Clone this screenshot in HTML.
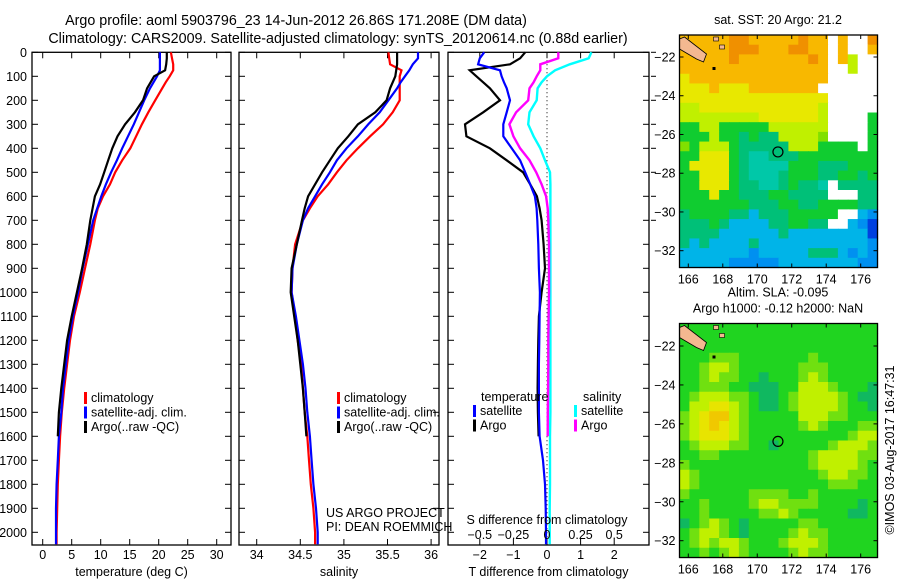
<!DOCTYPE html>
<html><head><meta charset="utf-8">
<style>
html,body{margin:0;padding:0;background:#fff;}
svg{display:block;font-family:"Liberation Sans",sans-serif;}
text{font-size:12.5px;fill:#000;}
</style></head>
<body>
<svg id="fig" width="900" height="580" viewBox="0 0 900 580" xmlns="http://www.w3.org/2000/svg">
<text x="296" y="25" text-anchor="middle" style="font-size:14.3px">Argo profile: aoml 5903796_23 14-Jun-2012 26.86S 171.208E (DM data)</text>
<text x="338" y="43" text-anchor="middle" style="font-size:14.3px">Climatology: CARS2009. Satellite-adjusted climatology: synTS_20120614.nc (0.88d earlier)</text>
<g id="p1"></g>
<g id="p2"></g>
<g id="p3"></g>
<g id="m1"></g>
<g id="m2"></g>
</svg>
<script>
const depths=[0,25,50,75,100,125,150,200,250,300,350,400,450,500,550,600,650,700,800,900,1000,1100,1200,1300,1400,1500,1600,1700,1800,1900,2000,2050];
const tempClim=[22.1,22.3,22.5,22.5,21.9,21.2,20.6,19.4,18.2,17.1,16.1,15.1,13.7,12.5,11.6,10.4,9.5,9.0,8.2,7.3,6.4,5.4,4.7,4.2,3.7,3.3,3.0,2.8,2.6,2.5,2.4,2.4];
const tempSat=[20.2,20.2,20.2,20.2,19.7,19.1,18.5,17.5,16.6,15.7,14.7,13.7,12.8,11.8,10.9,10.1,9.4,8.7,7.8,6.9,6.1,5.2,4.5,4.0,3.5,3.2,2.8,2.6,2.4,2.3,2.3,2.3];
const tempArgo=[21.4,21.4,21.3,21.1,19.2,18.6,18.0,17.3,15.9,14.2,12.9,12.0,11.3,10.6,9.9,9.0,8.6,8.2,7.6,6.8,5.9,5.0,4.2,3.7,3.2,2.8,2.6];
const salClim=[35.51,35.52,35.53,35.66,35.64,35.64,35.64,35.64,35.56,35.45,35.30,35.16,35.03,34.92,34.82,34.70,34.61,34.53,34.44,34.41,34.40,34.44,34.47,34.51,34.53,34.55,34.58,34.60,34.62,34.65,34.67,34.67];
const salSat=[35.85,35.85,35.79,35.75,35.70,35.65,35.61,35.51,35.41,35.28,35.16,35.03,34.92,34.84,34.75,34.67,34.59,34.53,34.46,34.41,34.40,34.45,34.49,34.53,34.56,34.58,34.61,34.63,34.65,34.68,34.70,34.70];
const salArgo=[35.61,35.61,35.61,35.60,35.59,35.56,35.53,35.49,35.36,35.16,35.05,34.93,34.84,34.75,34.67,34.59,34.55,34.52,34.46,34.40,34.39,34.43,34.47,34.50,34.53,34.55,34.57];
const dTSat=[-1.87,-2.0,-2.05,-1.4,-1.35,-1.28,-1.2,-1.1,-1.2,-1.3,-1.3,-1.05,-0.8,-0.65,-0.5,-0.36,-0.31,-0.29,-0.26,-0.24,-0.21,-0.22,-0.23,-0.24,-0.24,-0.24,-0.22,-0.12,-0.06,-0.04,-0.03,-0.03];
const dTArgo=[-0.65,-0.8,-1.1,-2.3,-2.1,-1.9,-1.7,-1.4,-1.9,-2.44,-2.4,-1.7,-1.2,-0.71,-0.5,-0.3,-0.22,-0.16,-0.1,-0.06,-0.16,-0.24,-0.26,-0.27,-0.28,-0.27,-0.25];
const dSArgo=[0.084,0.084,-0.05,-0.05,-0.077,-0.1,-0.13,-0.14,-0.23,-0.28,-0.25,-0.2,-0.13,-0.08,-0.04,-0.007,0.005,0.01,0.015,0.015,0.015,0.012,0.01,0.01,0.008,0.006,0.005];
const dSSat=[0.33,0.31,0.17,0.06,0,-0.04,-0.07,-0.077,-0.13,-0.14,-0.1,-0.05,-0.015,0.022,0.025,0.025,0.025,0.025,0.025,0.025,0.025,0.025,0.025,0.025,0.025,0.025,0.022,0.022,0.022,0.02,0.02,0.02];
const depthTicks=[0,100,200,300,400,500,600,700,800,900,1000,1100,1200,1300,1400,1500,1600,1700,1800,1900,2000];
const tempTicks=[0,5,10,15,20,25,30];
const salTicks=[34,34.5,35,35.5,36];
const dTTicks=[-2,-1,0,1,2];
const dSTicks=[-0.5,-0.25,0,0.25,0.5];
const lonTicks=[166,168,170,172,174,176];
const latTicks=[22,24,26,28,30,32];
const sstGrid=[
"oooooOOoooooOoowowwO","oooooOOOoooOOoowowwo","oooooOoooooooOowoYww","ooooooooooooooowwYww",
"yoooooooooooooowwwww","yyyoyyyooooooowwwwww","yyyyyyyyyyyyyyywwwww","YYyyyyyyyyyyyyYwwwww",
"YYYYYYYYyyyyyyYwwwwG","GGYYGGGGGYYYYYYwwwwG","GGGYGGtGttYYYYgwwwwG","gGYYYGtttttYYYGGGGwG",
"GGyyyGtcctttGGGGGGGG","GyyyyGtccccGGGtttGGG","GGyyyGtccctGGGttGGtG","GGyyyGttcctGttcwtttt",
"GGGyGGtttGGttttwwwtt","GGGGGGGtttGGttGGGGtt","tGGGGttbtttGGGGGwwbB","tttGtbbbbttGGttwwbBD",
"ttttbbbbbbtbbbbbbbbD","tbtbbbbtbbbbbbbbbbbB","bbbbbbbBbbbbbtttbBbB","bbbbbBBBBBbbbbbbbbBB"];
const slaGrid=[
"GGGGGGGGGGGGGGGGGGGG","GGGGGGGGGGGGGGGGGGGG","GGGGGGGGGGGGGGGGGGGG","GGGgggGGGGGGGgGGGGGG",
"GGgYYgGGGGGGgggGGGGG","GGgYggGGtGGGgYgGGGGG","GGgggGGtttGGYYYgGGGt","GgYYYggGttGgYYYYgGtt",
"GYYyyYgGttGgYYYYgGGt","gYyooYgGGGGGYYYggGGG","gYyoyYgGGGGGgYgGGGgg","gYyyyYgGGGGGGGGGGgYY",
"GgYYYggGGtGGGGGgYYYg","GGggGGGGGGGGGgYYYYgg","gGGGGGGGGGGGGgYYYYgG","YgGGGGGGGGGGGGgYYggG",
"YgGGGGGGGGGGGGGgggGG","gGGGGGGggggGGgGGGGGG","GGgGGGGgYYggggGGGGtG","GGgGGGGGggYgGGGGGttG",
"tGgYgGtGGGGGggGGGGGG","GgYYgGtGGGGgYggGGGGG","GgYgYYgGGGgYYYgGGGGG","GGgGgYgGGGGgYggGGGGG"];
const floatLon=171.2, floatLat=26.9;

const NS="http://www.w3.org/2000/svg";
function mk(parent,tag,attrs,txt){const e=document.createElementNS(NS,tag);for(const k in attrs)e.setAttribute(k,attrs[k]);if(txt!==undefined)e.textContent=txt;parent.appendChild(e);return e;}
const TOP=52.3, PXM=0.24, BOT=545;
const yD=d=>TOP+d*PXM;

function panel(g,L,R,xf,ticks,tickLbl,bottomLbl,showDepth){
  const fr=mk(g,'rect',{x:L,y:TOP,width:R-L,height:BOT-TOP,fill:'none',stroke:'#000','stroke-width':1.3});
  
  depthTicks.forEach(d=>{
    mk(g,'line',{x1:L,x2:L+6,y1:yD(d),y2:yD(d),stroke:'#000'});
    mk(g,'line',{x1:R-6,x2:R,y1:yD(d),y2:yD(d),stroke:'#000'});
    if(showDepth){const t=mk(g,'text',{x:L-5,y:yD(d)+4.5,'text-anchor':'end'},String(d));
      }
  });
  ticks.forEach(v=>{
    mk(g,'line',{x1:xf(v),x2:xf(v),y1:TOP,y2:TOP+6,stroke:'#000'});
    mk(g,'line',{x1:xf(v),x2:xf(v),y1:BOT-6,y2:BOT,stroke:'#000'});
    if(tickLbl){const t=mk(g,'text',{x:xf(v),y:559,'text-anchor':'middle'},String(v).replace('-','\u2212'));
      }
  });
  const t=mk(g,'text',{x:(L+R)/2,y:576,'text-anchor':'middle'},bottomLbl);
  
}
function series(g,vals,xf,color,name,w){
  const pts=vals.map((v,i)=>xf(v).toFixed(1)+','+yD(depths[i]).toFixed(1)).join(' ');
  const p=mk(g,'polyline',{points:pts,fill:'none',stroke:color,'stroke-width':w||2.2,'stroke-linejoin':'miter'});
  
}
function legend(g,x,y,items){
  items.forEach((it,i)=>{
    const r=mk(g,'rect',{x:x,y:y+i*14.5-10,width:3,height:12,fill:it[0]});
    
    const t=mk(g,'text',{x:x+7,y:y+i*14.5},it[1]);
    
  });
}
const p1=document.getElementById('p1');
const xT=v=>42.7+v*5.8;
panel(p1,32,231,xT,tempTicks,true,'temperature (deg C)',true);
series(p1,tempClim,xT,'#ff0000','temp-climatology-line');
series(p1,tempSat,xT,'#0000ff','temp-satellite-line');
series(p1,tempArgo,xT,'#000000','temp-argo-line');
legend(p1,84,402,[['#f00','climatology'],['#00f','satellite-adj. clim.'],['#000','Argo(..raw -QC)']]);
const p2=document.getElementById('p2');
const xS=v=>256.7+(v-34)*87.2;
panel(p2,239,439,xS,salTicks,true,'salinity',false);
series(p2,salClim,xS,'#ff0000','sal-climatology-line');
series(p2,salSat,xS,'#0000ff','sal-satellite-line');
series(p2,salArgo,xS,'#000000','sal-argo-line');
legend(p2,337,402,[['#f00','climatology'],['#00f','satellite-adj. clim.'],['#000','Argo(..raw -QC)']]);
let t=mk(p2,'text',{x:326,y:517},'US ARGO PROJECT');
t=mk(p2,'text',{x:326,y:531},'PI: DEAN ROEMMICH');
const p3=document.getElementById('p3');
const xdT=v=>547+v*33.6, xdS=v=>547+v*134.4;
panel(p3,448,649,xdT,dTTicks,true,'T difference from climatology',false);
const zl=mk(p3,'line',{x1:547,x2:547,y1:TOP,y2:BOT,stroke:'#000','stroke-dasharray':'1,3'});

series(p3,dSSat,xdS,'#00ffff','sdiff-satellite-line',2.4);
series(p3,dSArgo,xdS,'#ff00ff','sdiff-argo-line',2.4);
series(p3,dTArgo,xdT,'#000000','tdiff-argo-line',2.2);
series(p3,dTSat,xdT,'#0000ff','tdiff-satellite-line',2.2);
t=mk(p3,'text',{x:481,y:401},'temperature');
t=mk(p3,'text',{x:583,y:401},'salinity');
legend(p3,473,415,[['#00f','satellite'],['#000','Argo']]);
legend(p3,574,415,[['#0ff','satellite'],['#f0f','Argo']]);
t=mk(p3,'text',{x:547,y:524,'text-anchor':'middle'},'S difference from climatology');
dSTicks.forEach(v=>{const tt=mk(p3,'text',{x:xdS(v),y:539,'text-anchor':'middle'},String(v).replace('-','\u2212'));
  });
for(let d=0;d<=700;d+=100){mk(p3,'line',{x1:651,x2:656,y1:yD(d),y2:yD(d),stroke:'#000'});}

const sstColors={O:'#f09000',o:'#f8b800',y:'#e8e800',Y:'#c0f000',g:'#80e000',G:'#10cc30',t:'#00c078',c:'#00c8a8',b:'#00b4e8',B:'#0090f0',D:'#0040e0',w:'#ffffff'};
const slaColors={G:'#20d420',g:'#70e010',Y:'#c0f000',y:'#e8e400',o:'#f0c800',t:'#10b860'};
function map(g,T,B,grid,colors,title1,title2,lat22y,latScale){
  const L=679.5,R=877.5;
  const cols=grid[0].length, rows=grid.length, cw=(R-L)/cols, ch=(B-T)/rows;
  grid.forEach((row,r)=>{for(let c=0;c<cols;c++){
    const e=mk(g,'rect',{x:(L+c*cw).toFixed(2),y:(T+r*ch).toFixed(2),width:(cw+0.6).toFixed(2),height:(ch+0.6).toFixed(2),fill:colors[row[c]]});
    
  }});
  const lx=v=>688.3+(v-166)*17.24, ly=v=>lat22y+(v-22)*latScale;
  const land=mk(g,'polygon',{points:`${L},${T+4} ${L+5},${T+2} ${L+27},${T+19} ${L+24},${T+27} ${L+17},${T+24} ${L},${T+14}`,fill:'#f4b890',stroke:'#000','stroke-width':0.8});
  
  mk(g,'rect',{x:L+34,y:T+2,width:5,height:4,fill:'#f4b890',stroke:'#000','stroke-width':0.6});
  mk(g,'rect',{x:L+40,y:T+10,width:5,height:4,fill:'#f4b890',stroke:'#000','stroke-width':0.6});
  mk(g,'rect',{x:L+33,y:T+32,width:3,height:3,fill:'#000'});
  const fr=mk(g,'rect',{x:L,y:T,width:R-L,height:B-T,fill:'none',stroke:'#000','stroke-width':1.3});
  
  const c=mk(g,'circle',{cx:lx(floatLon),cy:ly(floatLat),r:5,fill:'none',stroke:'#000','stroke-width':1.2});
  
  lonTicks.forEach(v=>{mk(g,'line',{x1:lx(v),x2:lx(v),y1:T,y2:T+4,stroke:'#000'});mk(g,'line',{x1:lx(v),x2:lx(v),y1:B-4,y2:B,stroke:'#000'});
    const tt=mk(g,'text',{x:lx(v),y:B+16,'text-anchor':'middle'},String(v));});
  latTicks.forEach(v=>{mk(g,'line',{x1:L,x2:L+4,y1:ly(v),y2:ly(v),stroke:'#000'});mk(g,'line',{x1:R-4,x2:R,y1:ly(v),y2:ly(v),stroke:'#000'});
    const tt=mk(g,'text',{x:L-4,y:ly(v)+4.5,'text-anchor':'end'},'\u2212'+v);});
  let a=mk(g,'text',{x:778,y:title2?T-27:T-11,'text-anchor':'middle'},title1);
  if(title2){a=mk(g,'text',{x:778,y:T-11,'text-anchor':'middle'},title2);}
}
map(document.getElementById('m1'),35,267.5,sstGrid,sstColors,'sat. SST: 20 Argo: 21.2',null,57,19.37);
map(document.getElementById('m2'),323.5,557.5,slaGrid,slaColors,'Altim. SLA: -0.095','Argo h1000: -0.12 h2000: NaN',346,19.47);
const fig=document.getElementById('fig');
const cr=mk(fig,'text',{x:894,y:450,'text-anchor':'middle',transform:'rotate(-90 894 450)'},'\u00a9IMOS 03-Aug-2017 16:47:31');

</script>
</body></html>
